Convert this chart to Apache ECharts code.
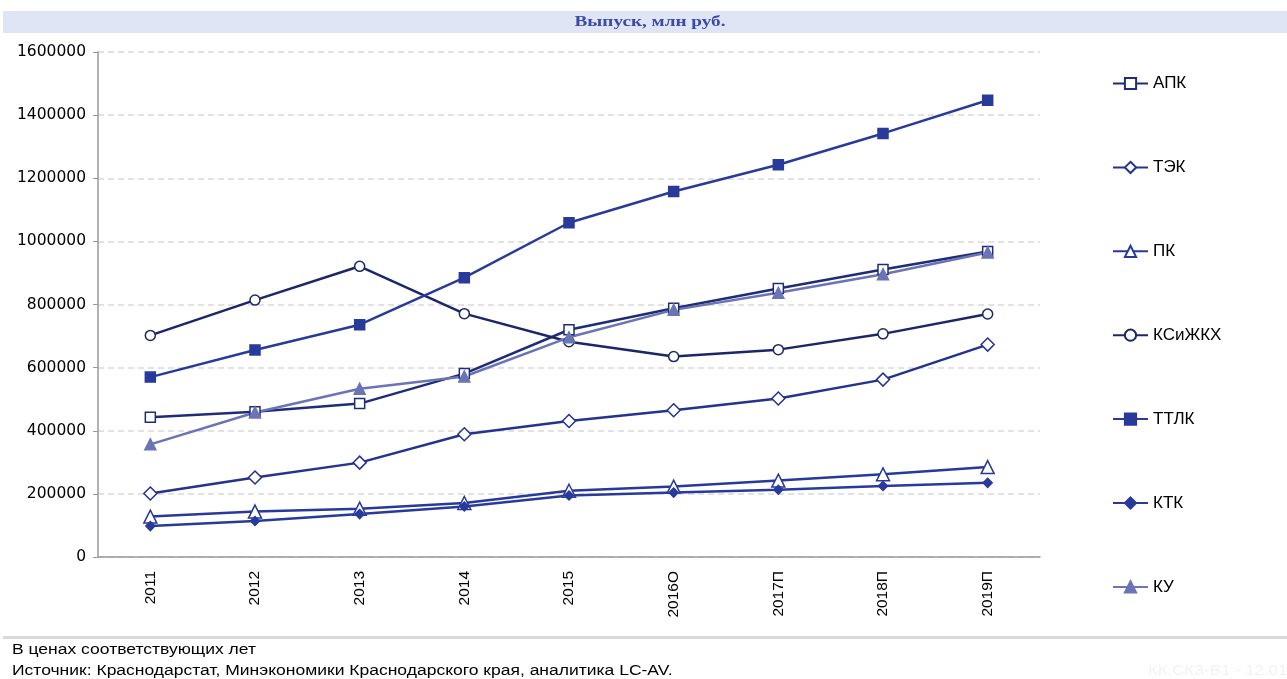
<!DOCTYPE html>
<html>
<head>
<meta charset="utf-8">
<script src="https://cdn.jsdelivr.net/npm/echarts@6/dist/echarts.min.js"></script>
<style>
html,body{margin:0;padding:0;background:#fff;}
#chart{width:1287px;height:679px;}
</style>
</head>
<body>
<div id="chart"></div>
<script>
var categories = ['2011','2012','2013','2014','2015','2016О','2017П','2018П','2019П'];
var yTicks = [0,200000,400000,600000,800000,1000000,1200000,1400000,1600000];
var apk    = [443000, 460000, 486000, 581000, 720000, 788000, 851000, 911000, 968000];
var tek    = [201000, 252000, 299000, 389000, 431000, 465000, 502000, 562000, 673000];
var pk     = [128000, 144000, 153000, 171000, 210000, 223000, 242000, 262000, 285000];
var ksizhkh= [702000, 814000, 921000, 771000, 682000, 635000, 657000, 707000, 770000];
var ttlk   = [570000, 656000, 736000, 885000, 1059000, 1158000, 1243000, 1342000, 1447000];
var ktk    = [98000, 114000, 136000, 160000, 195000, 204000, 213000, 225000, 235000];
var ku     = [357000, 458000, 533000, 572000, 696000, 783000, 837000, 896000, 965000];

var chart = echarts.init(document.getElementById('chart'));

function mk(name, data, color, symbol, size, filled){
  return {
    name: name, type: 'line', data: data,
    symbol: symbol, symbolSize: size, showSymbol: true,
    lineStyle: {color: color, width: 2.5},
    itemStyle: {color: filled ? color : '#ffffff', borderColor: color, borderWidth: 1.5},
    emphasis: {disabled: true},
    z: 3
  };
}

var sans = '"Liberation Sans", Arial, sans-serif';

var option = {
  animation: false,
  backgroundColor: '#ffffff',
  grid: {left: 98, right: 247, top: 52, bottom: 122, containLabel: false},
  legend: {
    orient: 'vertical', left: 1107, top: 70,
    itemWidth: 35, itemHeight: 14, itemGap: 66.9,
    textStyle: {fontFamily: 'Liberation Sans, Arial', fontSize: 17, color: '#000'},
    data: ['АПК','ТЭК','ПК','КСиЖКХ','ТТЛК','КТК','КУ']
  },
  xAxis: {
    type: 'category', data: categories, boundaryGap: true,
    axisLine: {lineStyle: {color: '#999999', width: 1.5}},
    axisTick: {show: false},
    axisLabel: {rotate: 90, margin: 14, fontFamily: 'Liberation Sans, Arial', fontSize: 15.5, color: '#000'}
  },
  yAxis: {
    type: 'value', min: yTicks[0], max: yTicks[yTicks.length-1], interval: yTicks[1]-yTicks[0],
    axisLine: {show: true, lineStyle: {color: '#999999', width: 1.5}},
    axisTick: {show: true, length: 5, lineStyle: {color: '#999999'}},
    axisLabel: {margin: 12, fontFamily: 'DejaVu Sans', fontSize: 15.5, color: '#000',
      formatter: function(v){ return String(v); }},
    splitLine: {show: true, lineStyle: {color: '#d9d9d9', type: [6,4], width: 1.5}}
  },
  graphic: [
    {type: 'rect', left: 3, top: 11, shape: {width: 1284, height: 22}, style: {fill: '#dfe5f5'}, z: -1},
    {type: 'text', x: 650, y: 22, scaleX: 1.28, style: {text: 'Выпуск, млн руб.', textAlign: 'center', textVerticalAlign: 'middle', font: 'bold 15px "Liberation Serif", "Times New Roman", serif', fill: '#3a4aa6'}},
    {type: 'rect', left: 3, top: 636, shape: {width: 1284, height: 3}, style: {fill: '#d9d9d9'}},
    {type: 'text', x: 12, y: 650, scaleX: 1.25, style: {text: 'В ценах соответствующих лет', textAlign: 'left', textVerticalAlign: 'middle', font: '14px ' + sans, fill: '#000'}},
    {type: 'text', x: 12, y: 671, scaleX: 1.25, style: {text: 'Источник: Краснодарстат, Минэкономики Краснодарского края, аналитика LC-AV.', textAlign: 'left', textVerticalAlign: 'middle', font: '14px ' + sans, fill: '#000'}},
    {type: 'text', x: 1148, y: 671, scaleX: 1.2, style: {text: 'КК.СКЗ-В1 - 12.01.17', textAlign: 'left', textVerticalAlign: 'middle', font: '14px ' + sans, fill: '#f2f2f2'}}
  ],
  series: [
    mk('АПК', apk, '#1f2d78', 'rect', 10, false),
    mk('ТЭК', tek, '#23338e', 'diamond', 13, false),
    mk('ПК', pk, '#27399a', 'triangle', 13, false),
    mk('КСиЖКХ', ksizhkh, '#1b2766', 'circle', 10, false),
    mk('ТТЛК', ttlk, '#283b9a', 'rect', 10, true),
    mk('КТК', ktk, '#283b9a', 'diamond', 9, true),
    mk('КУ', ku, '#6b74b5', 'triangle', 11, true)
  ]
};
chart.setOption(option);
</script>
</body>
</html>
